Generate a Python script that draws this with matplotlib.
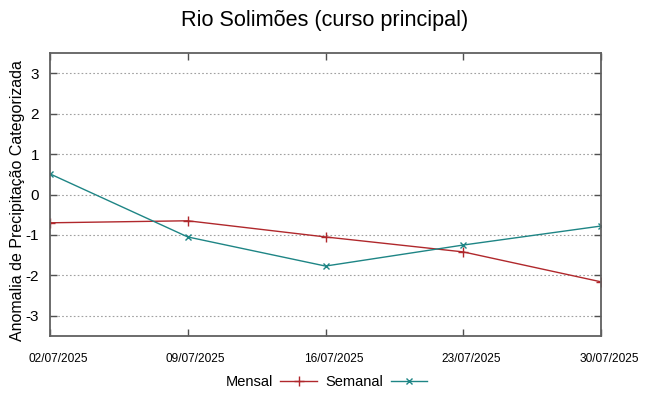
import matplotlib
matplotlib.use("Agg")
import matplotlib.pyplot as plt
import matplotlib.transforms as mtransforms

plt.rcParams["font.family"] = ["Liberation Sans", "DejaVu Sans"]
plt.rcParams["axes.unicode_minus"] = False

# data
dates = ["02/07/2025", "09/07/2025", "16/07/2025", "23/07/2025", "30/07/2025"]
mensal = [-0.70, -0.65, -1.05, -1.42, -2.16]
semanal = [0.51, -1.05, -1.77, -1.25, -0.78]
y_ticks = [-3, -2, -1, 0, 1, 2, 3]

fig = plt.figure(figsize=(6.49, 3.96), dpi=100)
ax = fig.add_axes([50 / 649, 1 - 336 / 396, 551 / 649, 283 / 396])

x = list(range(len(dates)))
ax.plot(x, mensal, color="#b0282c", lw=1.0, marker="+", ms=7, mew=1.0, label="Mensal")
ax.plot(x, semanal, color="#1e8585", lw=1.0, marker="x", ms=5, mew=1.0, label="Semanal")

ax.set_xlim(0, len(dates) - 1)
ax.set_ylim(-3.5, 3.5)
ax.set_xticks(x)
ax.set_xticklabels(dates, fontsize=8.6)
ax.set_yticks(y_ticks)
ax.tick_params(axis="y", labelsize=11)
ax.tick_params(direction="in", length=5, width=1, color="#505050",
               top=True, right=True, pad=8)
ax.tick_params(axis="x", pad=12)
ax.yaxis.grid(True, linestyle=(0, (1.5, 2)), color="#a0a0a0", lw=0.8)

# date labels sit a little right of their ticks, as in the reference
shift = mtransforms.ScaledTranslation(8 / 100, 0, fig.dpi_scale_trans)
for lab in ax.get_xticklabels():
    lab.set_transform(lab.get_transform() + shift)

for s in ax.spines.values():
    s.set_color("#606060")
    s.set_linewidth(1.3)

ax.set_ylabel("Anomalia de Precipitação Categorizada", fontsize=11.5)
ax.yaxis.set_label_coords(-25 / 551, 0.48)
fig.suptitle("Rio Solimões (curso principal)", fontsize=15.6, y=0.975)

fig.legend(loc="center", bbox_to_anchor=(0.503, 0.035), ncol=2, frameon=False,
           markerfirst=False, fontsize=10.5, handlelength=2.5, columnspacing=0.6,
           handletextpad=0.5)

fig.savefig("out.png", dpi=100)
